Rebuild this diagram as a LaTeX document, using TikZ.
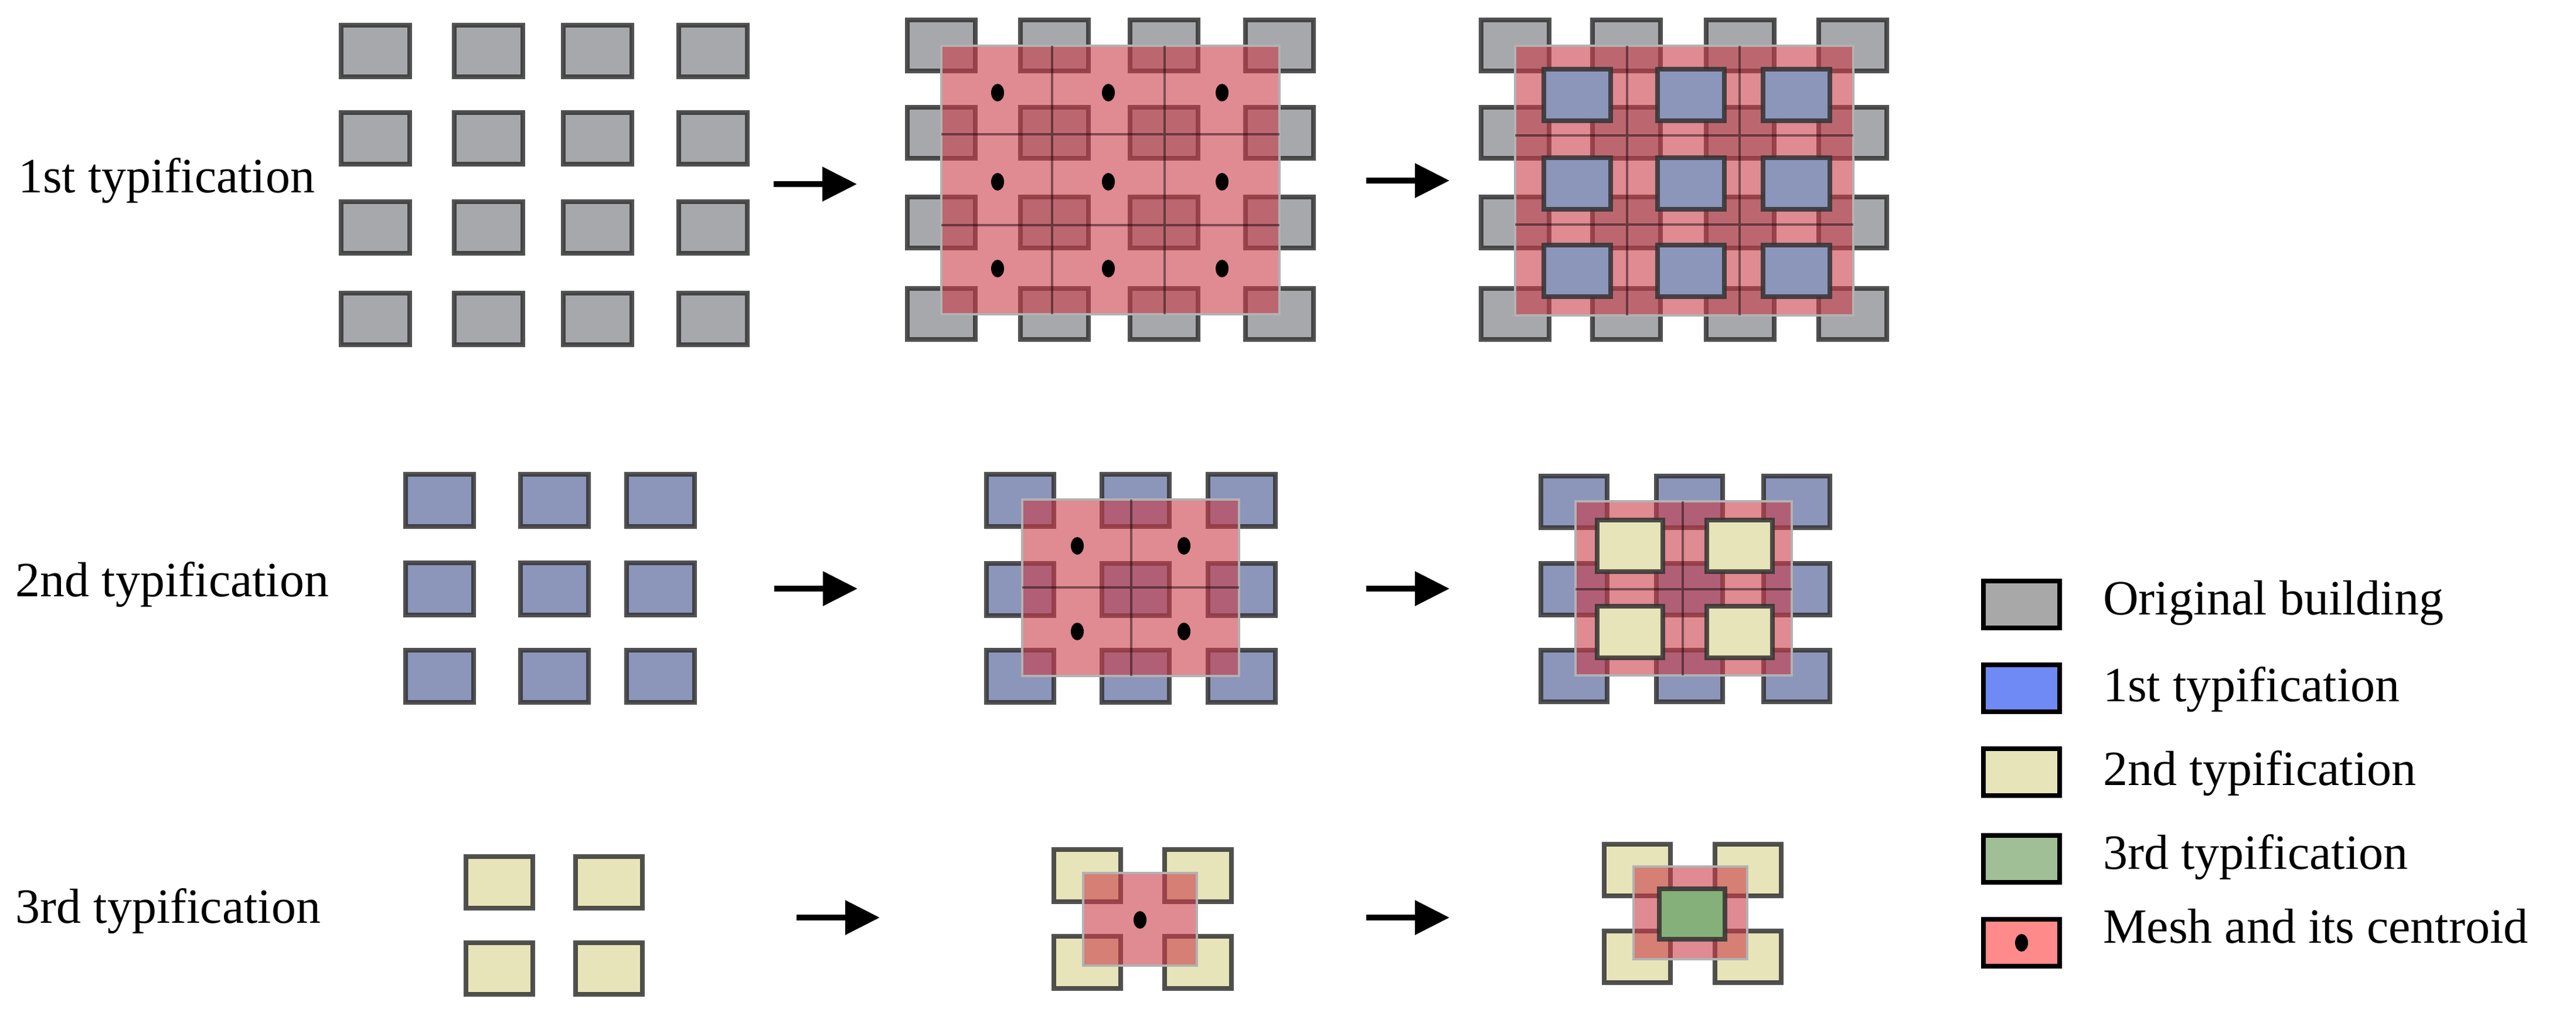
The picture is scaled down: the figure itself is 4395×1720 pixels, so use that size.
\documentclass[tikz,border=0pt]{standalone}
\usepackage{fontspec}
\setmainfont{Liberation Serif}
\usetikzlibrary{arrows.meta}
\definecolor{gfill}{HTML}{A7A8AB}
\definecolor{bfill}{HTML}{8C95BA}
\definecolor{yfill}{HTML}{E6E4B8}
\definecolor{grfill}{HTML}{86B07A}
\definecolor{meshc}{HTML}{CB3C49}
\definecolor{edge}{HTML}{333333}
\definecolor{lgray}{HTML}{A8A8A8}
\definecolor{lblue}{HTML}{6F8AF5}
\definecolor{lgreen}{HTML}{A0BF96}
\definecolor{lred}{HTML}{FF8A8A}
\tikzset{
  bld/.style={draw=edge,line width=0.75pt,draw opacity=0.85},
  gb/.style={bld,fill=gfill},
  bb/.style={bld,fill=bfill},
  yb/.style={bld,fill=yfill},
  grb/.style={bld,fill=grfill},
  mesh/.style={fill=meshc,fill opacity=0.6,draw=gray!60,line width=0.4pt},
  grid/.style={draw=black,draw opacity=0.45,line width=0.4pt},
  cdot/.style={fill=black,draw=none},
  arr/.style={line width=0.95pt,-{Triangle[length=5.9pt,width=5.7pt]}},
  lab/.style={font=\fontsize{8.4}{10}\selectfont,anchor=base west,inner sep=0pt},
  leg/.style={draw=black,line width=0.8pt},
}
\newcommand{\sq}[4]{\fill[#1] (#2,#3) rectangle ++(#4);}
\begin{document}
\begin{tikzpicture}[x=0.1pt,y=-0.1pt]
\useasboundingbox (0,0) rectangle (4395,1720);
% labels
\node[lab] (l1) at (29,328) {1st typification};
\node[lab] (l2) at (25,1017) {2nd typification};
\node[lab] (l3) at (25,1574) {3rd typification};
% ===== Row 1
\foreach \x in {582,775,961,1158}\foreach \y in {43,192,344,500}
  \draw[gb] (\x,\y) rectangle ++(117,88);
% panel 2
\foreach \x in {1548,1741,1928,2125}\foreach \y in {34,183,336,492}
  \draw[gb] (\x,\y) rectangle ++(116,87);
\draw[mesh] (1606,78) rectangle (2183,536);
\draw[grid] (1795,78) -- (1795,536) (1987,78) -- (1987,536) (1606,229) -- (2183,229) (1606,384) -- (2183,384);
\foreach \x in {1702,1891,2085}\foreach \y in {158,310,458}
  \fill[cdot] (\x,\y) ellipse (1.1pt and 1.5pt);
% panel 3
\foreach \x in {2527,2717,2911,3103}\foreach \y in {34,183,336,492}
  \draw[gb] (\x,\y) rectangle ++(116,87);
\draw[mesh] (2585,78) rectangle (3162,538);
\draw[grid] (2776,78) -- (2776,538) (2968,78) -- (2968,538) (2585,231) -- (3162,231) (2585,383) -- (3162,383);
\foreach \x in {2634,2828,3008}\foreach \y in {118,269,418}
  \draw[bb] (\x,\y) rectangle ++(114,88);
\draw[arr] (1320,314) -- (1462,314);
\draw[arr] (2331,308) -- (2473,308);
% ===== Row 2
\foreach \x in {692,888,1069}\foreach \y in {809,960,1109}
  \draw[bb] (\x,\y) rectangle ++(116,89);
\foreach \x in {1683,1880,2061}\foreach \y in {809,961,1109}
  \draw[bb] (\x,\y) rectangle ++(115,89);
\draw[mesh] (1744,852) rectangle (2114,1153);
\draw[grid] (1930,852) -- (1930,1153) (1744,1002) -- (2114,1002);
\foreach \x in {1838,2020}\foreach \y in {931,1077}
  \fill[cdot] (\x,\y) ellipse (1.1pt and 1.5pt);
\foreach \x in {2629,2826,3009}\foreach \y in {812,961,1109}
  \draw[bb] (\x,\y) rectangle ++(113,88);
\draw[mesh] (2688,855) rectangle (3057,1152);
\draw[grid] (2871,855) -- (2871,1152) (2688,1005) -- (3057,1005);
\foreach \x in {2725,2912}\foreach \y in {887,1034}
  \draw[yb] (\x,\y) rectangle ++(112,88);
\draw[arr] (1321,1004) -- (1463,1004);
\draw[arr] (2331,1004) -- (2473,1004);
% ===== Row 3
\foreach \x in {795,982}\foreach \y in {1461,1608}
  \draw[yb] (\x,\y) rectangle ++(114,88);
\foreach \x in {1798,1987}\foreach \y in {1449,1597}
  \draw[yb] (\x,\y) rectangle ++(114,89);
\draw[mesh] (1848,1489) rectangle (2042,1647);
\fill[cdot] (1945,1569) ellipse (1.1pt and 1.5pt);
\foreach \x in {2737,2926}\foreach \y in {1440,1588}
  \draw[yb] (\x,\y) rectangle ++(113,88);
\draw[mesh] (2787,1478) rectangle (2981,1636);
\draw[grb] (2831,1516) rectangle (2943,1602);
\draw[arr] (1359,1565) -- (1501,1565);
\draw[arr] (2331,1565) -- (2473,1565);
% ===== Legend
\draw[leg,fill=lgray] (3384,991) rectangle ++(130,80);
\draw[leg,fill=lblue] (3384,1134) rectangle ++(130,80);
\draw[leg,fill=yfill] (3384,1277) rectangle ++(130,80);
\draw[leg,fill=lgreen] (3384,1425) rectangle ++(130,80);
\draw[leg,fill=lred] (3384,1568) rectangle ++(130,80);
\fill[cdot] (3449,1608) ellipse (1.1pt and 1.5pt);
\node[lab] (t1) at (3586,1048) {Original building};
\node[lab] (t2) at (3586,1196) {1st typification};
\node[lab] (t3) at (3586,1339) {2nd typification};
\node[lab] (t4) at (3586,1482) {3rd typification};
\node[lab] (t5) at (3586,1608) {Mesh and its centroid};
\end{tikzpicture}
\end{document}
